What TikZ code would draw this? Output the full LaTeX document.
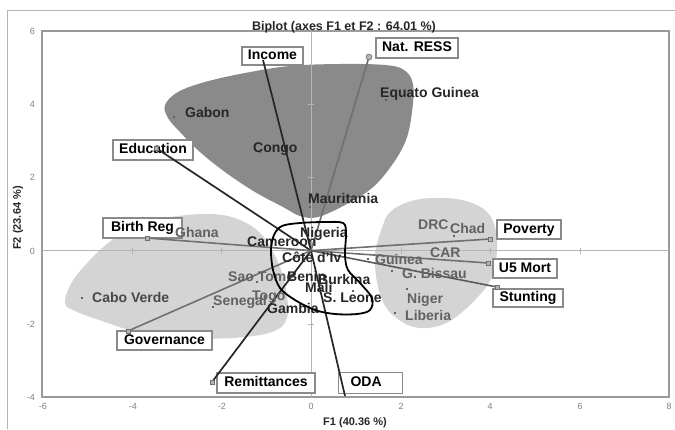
\documentclass[tikz,border=0pt]{standalone}
\usepackage{fontspec}
\setmainfont{Liberation Sans}
\definecolor{darkfill}{HTML}{8A8A8A}
\definecolor{lightfill}{HTML}{D4D4D4}
\definecolor{gridgray}{HTML}{B4B4B4}
\definecolor{framegray}{HTML}{9A9A9A}
\definecolor{boxgray}{HTML}{8A8A8A}
\definecolor{vecdark}{HTML}{262626}
\definecolor{vecgray}{HTML}{707070}
\definecolor{darktxt}{HTML}{262626}
\definecolor{graytxt}{HTML}{626262}
\definecolor{ticktxt}{HTML}{808080}
\begin{document}
\begin{tikzpicture}[x=1pt,y=-1pt,
  lab/.style={draw=boxgray, line width=1.1pt, fill=white, text=black,
    font=\fontsize{14}{15}\selectfont\bfseries, inner sep=0pt,
    text height=10pt, text depth=3pt},
  ctry/.style={font=\fontsize{14}{15}\selectfont\bfseries, text=darktxt, inner sep=0pt, anchor=base west},
  gctry/.style={ctry, text=graytxt},
  vdark/.style={draw=vecdark, line width=1.7pt},
  vgray/.style={draw=vecgray, line width=1.6pt},
  ticklab/.style={font=\fontsize{9}{10}\selectfont, text=ticktxt, inner sep=0pt},
  axtitle/.style={font=\fontsize{11}{12}\selectfont\bfseries, text=darktxt, inner sep=0pt},
  endpt/.style={draw=vecgray, fill=gridgray, minimum size=4pt, inner sep=0pt, line width=0.6pt},
  dotpt/.style={fill=graytxt, minimum size=2.5pt, inner sep=0pt},
]
\useasboundingbox (0,0) rectangle (675,429);
% outer frame
\draw[gridgray, line width=1pt] (7,429) -- (7,10) -- (675,10);
% regions
\fill[darkfill] plot[smooth cycle, tension=0.6] coordinates {
  (165,105) (178,92) (205,82) (245,73) (290,66) (340,64) (385,65) (404,70)
  (413,84) (412,112) (406,140) (392,165) (372,188) (345,205) (318,217)
  (300,216) (283,207) (255,192) (225,172) (200,152) (180,132) (168,118)};
\fill[lightfill] plot[smooth cycle, tension=0.6] coordinates {
  (65,303) (72,282) (90,260) (112,240) (138,225) (170,217) (212,214)
  (240,220) (262,235) (278,262) (286,290) (287,318) (272,332) (232,338)
  (180,338) (140,333) (102,321) (75,311)};
\fill[lightfill] plot[smooth cycle, tension=0.6] coordinates {
  (390,212) (408,202) (432,198) (462,200) (485,210) (495,227) (497,250)
  (492,277) (475,300) (450,321) (428,328) (408,325) (388,310) (378,287)
  (375,255) (382,228)};
% plot frame and zero lines
\draw[framegray, line width=1.2pt] (42,31) rectangle (669,397);
\draw[gridgray, line width=1pt] (42,250.6) -- (669,250.6);
\draw[gridgray, line width=1pt] (311,31) -- (311,397);
\foreach \px in {132,221,401,490,580} \draw[gridgray, line width=0.8pt] (\px,247.5) -- (\px,253.5);
\foreach \py in {104,177,324} \draw[gridgray, line width=0.8pt] (308,\py) -- (314,\py);
% tick labels
\foreach \v/\py in {6/31,4/104,2/177,0/251,-2/324,-4/397}
  \node[ticklab, anchor=east] at (35,\py) {\v};
\foreach \v/\px in {-6/43,-4/133,-2/222,0/311,2/401,4/490,6/580,8/669}
  \node[ticklab] at (\px,406) {\v};
% titles
\node[font=\fontsize{12.5}{14}\selectfont\bfseries, text=darktxt, inner sep=0pt] (title) at (344,27) {Biplot (axes F1 et F2 : 64.01 \%)};
\node[axtitle] (f1) at (355,423) {F1 (40.36 \%)};
\node[axtitle, rotate=90] (f2) at (18,218) {F2 (23.64 \%)};
% variable label boxes
\node[lab, minimum width=61pt, minimum height=18pt] (inc) at (272.5,56) {Income};
\node[lab, minimum width=82pt, minimum height=20pt] (nat) at (417,48) {Nat. RESS};
\node[lab, minimum width=80pt, minimum height=20pt] (edu) at (153,150) {Education};
\node[lab, minimum width=79pt, minimum height=20pt] (birth) at (142.5,228) {Birth Reg};
\node[lab, minimum width=95pt, minimum height=19pt] (gov) at (164.5,340.5) {Governance};
\node[lab, minimum width=98pt, minimum height=20pt] (rem) at (266,383) {Remittances};
\node[lab, anchor=north west, text width=40pt, align=left, inner xsep=12pt, minimum height=21pt] (oda) at (338,372) {ODA};
\node[lab, minimum width=64pt, minimum height=19pt] (pov) at (529,229.5) {Poverty};
\node[lab, minimum width=64pt, minimum height=19pt] (u5) at (525,268.5) {U5 Mort};
\node[lab, minimum width=70pt, minimum height=18pt] (stu) at (528,298) {Stunting};
% vectors
\coordinate (O) at (311,250.6);
\coordinate (eInc) at (263,60);
\coordinate (eNat) at (369,57);
\coordinate (eEdu) at (156,148);
\coordinate (eBirth) at (147,238);
\coordinate (eGov) at (128,331);
\coordinate (eRem) at (212,382);
\coordinate (eOda) at (345,396);
\coordinate (ePov) at (490,239);
\coordinate (eU5) at (488,263);
\coordinate (eStu) at (497,287);
\draw[vdark] (O) -- (eInc);
\draw[vdark] (O) -- (eEdu);
\draw[vdark] (O) -- (eRem);
\draw[vdark] (O) -- (eOda);
\draw[vgray] (O) -- (eNat);
\draw[vgray] (O) -- (eBirth);
\draw[vgray] (O) -- (eGov);
\draw[vgray] (O) -- (ePov);
\draw[vgray] (O) -- (eU5);
\draw[vgray, draw=vecgray!80!black] (O) -- (eStu);
\node[endpt, circle, minimum size=6pt] (mNat) at (eNat) {};
\node[endpt] (mRem) at (eRem) {};
\node[endpt] (mEdu) at (eEdu) {};
\node[endpt] (mBirth) at (eBirth) {};
\node[endpt] (mGov) at (eGov) {};
\node[endpt] (mPov) at (ePov) {};
\node[endpt] (mU5) at (eU5) {};
\node[endpt] (mStu) at (eStu) {};
% country points
\foreach \nm/\px/\py in {pGab/174/117,pCon/260/152,pEqu/386/100,pMau/310/207,pCab/82/298,
  pCha/454/236,pGbi/392/271,pNig/407/289,pLib/395/313,pGui/368/259,pSen/213/307,pSao/257/282,pSle/353/291}
  \node[dotpt] (\nm) at (\px,\py) {};
% country labels
\node[ctry] (gabon) at (185,117) {Gabon};
\node[ctry] (congo) at (253,152) {Congo};
\node[ctry] (equ) at (380,97) {Equato Guinea};
\node[ctry] (mau) at (308,203) {Mauritania};
\node[gctry] (ghana) at (175,237) {Ghana};
\node[ctry, text=darktxt!85!white] (cabo) at (92,302) {Cabo Verde};
\node[gctry] (sao) at (228,281) {Sao Tome};
\node[gctry] (sen) at (213,305) {Senegal};
\node[gctry] (togo) at (252,300) {Togo};
\node[ctry] (nigeria) at (300,237) {Nigeria};
\node[ctry] (cam) at (247,246) {Cameroon};
\node[ctry] (cote) at (282,262) {Côte d'Iv};
\node[ctry] (benin) at (287,281) {Benin};
\node[ctry] (burk) at (318,284) {Burkina};
\node[ctry] (mali) at (305,292) {Mali};
\node[ctry] (sle) at (323,302) {S. Leone};
\node[ctry] (gam) at (267,313) {Gambia};
\node[gctry] (drc) at (418,229) {DRC};
\node[gctry] (chad) at (450,233) {Chad};
\node[gctry] (car) at (430,257) {CAR};
\node[gctry] (guinea) at (375,264) {Guinea};
\node[gctry] (gbis) at (402,278) {G. Bissau};
\node[gctry] (niger) at (407,303) {Niger};
\node[gctry] (lib) at (405,320) {Liberia};
% hand-drawn loop
\draw[black, line width=1.8pt] plot[smooth cycle, tension=0.55] coordinates {
  (282,226) (300,223) (325,222) (343,223) (346,233) (345,255) (348,270)
  (360,283) (372,298) (370,310) (357,314) (335,314) (315,310) (295,300)
  (280,288) (273,270) (271,250) (274,235)};
\end{tikzpicture}
\end{document}
